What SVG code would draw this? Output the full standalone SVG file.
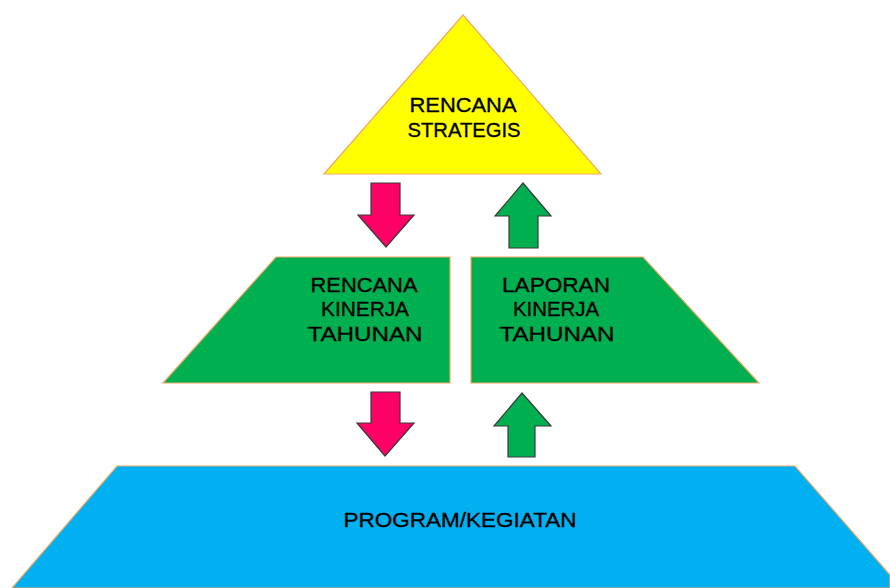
<svg xmlns="http://www.w3.org/2000/svg" width="890" height="588" viewBox="0 0 890 588">
  <style>
    .shape { stroke: #F0A868; stroke-width: 1.2; }
    .tri { fill: #FFFF00; }
    .trap { fill: #00B050; }
    .base { fill: #00B0F0; }
    .arrow { stroke: #3a3a3a; stroke-width: 1.2; stroke-linejoin: miter; }
    .down { fill: #FF0066; }
    .up { fill: #00B050; }
    .label { font-family: "Liberation Sans", Arial, sans-serif; font-size: 20.5px; fill: #000; stroke: #000; stroke-width: 0.35; text-anchor: middle; }
  </style>
  <rect width="890" height="588" fill="#FFFFFF"/>

  <g id="rencana-strategis">
    <polygon class="shape tri" points="463,15 601,174 324,174"/>
    <text class="label" x="463" y="112" textLength="107" lengthAdjust="spacingAndGlyphs">RENCANA</text>
    <text class="label" x="464" y="137" textLength="113" lengthAdjust="spacingAndGlyphs">STRATEGIS</text>
  </g>

  <g id="rencana-kinerja-tahunan">
    <polygon class="shape trap" points="276,257 450,257 450,383 163,383"/>
    <text class="label" x="364" y="292" textLength="107" lengthAdjust="spacingAndGlyphs">RENCANA</text>
    <text class="label" x="365" y="316" textLength="88" lengthAdjust="spacingAndGlyphs">KINERJA</text>
    <text class="label" x="365" y="341" textLength="115" lengthAdjust="spacingAndGlyphs">TAHUNAN</text>
  </g>

  <g id="laporan-kinerja-tahunan">
    <polygon class="shape trap" points="471,257 643,257 759,383 471,383"/>
    <text class="label" x="556" y="292" textLength="108" lengthAdjust="spacingAndGlyphs">LAPORAN</text>
    <text class="label" x="556" y="316" textLength="86" lengthAdjust="spacingAndGlyphs">KINERJA</text>
    <text class="label" x="557" y="341" textLength="115" lengthAdjust="spacingAndGlyphs">TAHUNAN</text>
  </g>

  <g id="program-kegiatan">
    <polygon class="shape base" points="117,466 795,466 890,575 890,588 12,588"/>
    <text class="label" x="460" y="527" textLength="233" lengthAdjust="spacingAndGlyphs">PROGRAM/KEGIATAN</text>
  </g>

  <g id="connectors">
    <polygon class="arrow down" points="371,183 400,183 400,215 414,215 386,247 358,215 371,215"/>
    <polygon class="arrow up" points="523,183 551,216 538,216 538,248 509,248 509,216 495,216"/>
    <polygon class="arrow down" points="371,392 400,392 400,423 414,423 385,456 357,423 371,423"/>
    <polygon class="arrow up" points="522,393 551,426 535,426 535,457 508,457 508,426 494,426"/>
  </g>
</svg>
